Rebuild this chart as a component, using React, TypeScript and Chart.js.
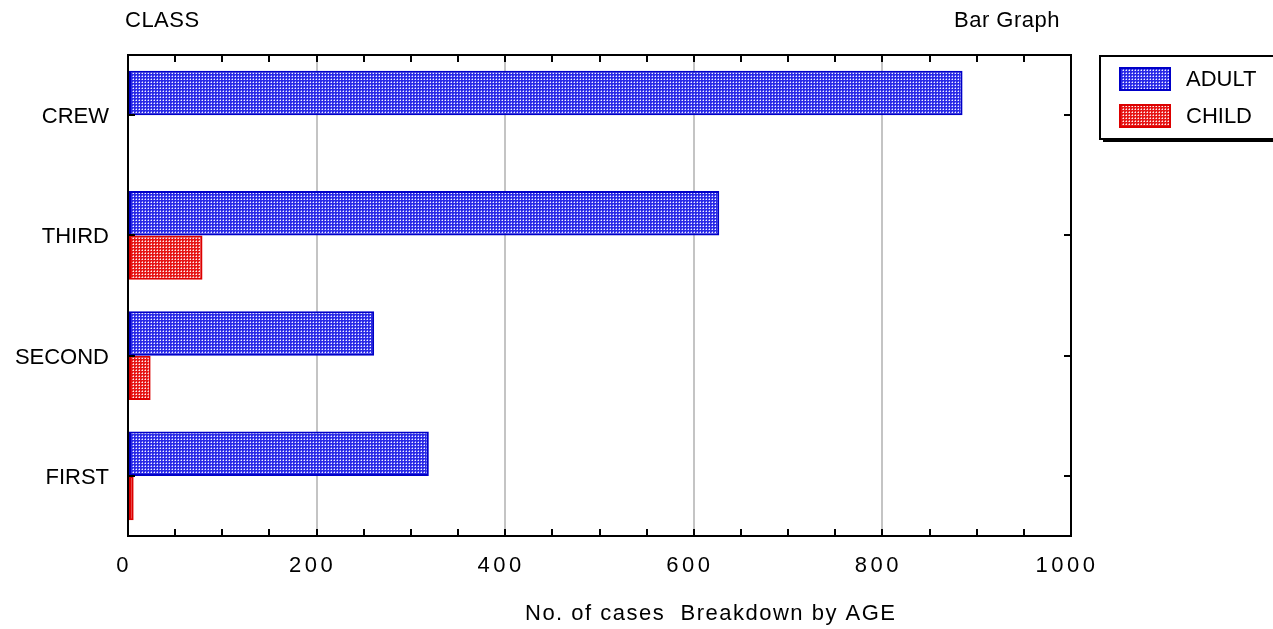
import { useEffect, useRef } from "react";
import { Chart, registerables } from "chart.js";

Chart.register(...registerables);

const classes = ["CREW", "THIRD", "SECOND", "FIRST"];
const adultCounts = [885, 627, 261, 319];
const childCounts = [0, 79, 24, 6];
const seriesNames = ["ADULT", "CHILD"];
const xTickLabels = [0, 200, 400, 600, 800, 1000];
const xMinorStep = 50;
const xMin = 0;
const xMax = 1000;
const topLeftTitle = "CLASS";
const topRightTitle = "Bar Graph";
const xAxisTitle = "No. of cases  Breakdown by AGE";

const FONT = '"Liberation Sans", Arial, Helvetica, sans-serif';

function makePattern(ctx: CanvasRenderingContext2D, base: string, light: string, dot: string) {
  const c = document.createElement("canvas");
  c.width = 3;
  c.height = 3;
  const g = c.getContext("2d")!;
  g.fillStyle = base;
  g.fillRect(0, 0, 3, 3);
  g.fillStyle = light;
  g.fillRect(1, 0, 1, 1);
  g.fillRect(0, 1, 1, 1);
  g.fillStyle = dot;
  g.fillRect(1, 1, 1, 1);
  return ctx.createPattern(c, "repeat")!;
}

export default function App() {
  const ref = useRef<HTMLCanvasElement | null>(null);

  useEffect(() => {
    const canvas = ref.current!;
    const ctx0 = canvas.getContext("2d")!;
    const adultFill = makePattern(ctx0, "#2a2ae6", "#8282f6", "#f4f4ff");
    const childFill = makePattern(ctx0, "#e61616", "#f28888", "#fff2f2");
    const adultBorder = "#0000c8";
    const childBorder = "#dc0000";

    const decor = {
      id: "decor",
      afterDraw(chart: any) {
        const { ctx, chartArea: a, scales } = chart;
        const x = scales.x;
        const y = scales.y;
        ctx.save();
        // frame
        ctx.strokeStyle = "#000";
        ctx.lineWidth = 2;
        ctx.strokeRect(a.left, a.top, a.right - a.left, a.bottom - a.top);
        // inward ticks
        ctx.beginPath();
        for (let v = xMin + xMinorStep; v < xMax; v += xMinorStep) {
          const px = Math.round(x.getPixelForValue(v));
          ctx.moveTo(px, a.bottom);
          ctx.lineTo(px, a.bottom - 7);
          ctx.moveTo(px, a.top);
          ctx.lineTo(px, a.top + 7);
        }
        classes.forEach((_, i) => {
          const py = Math.round(y.getPixelForValue(i));
          ctx.moveTo(a.left, py);
          ctx.lineTo(a.left + 7, py);
          ctx.moveTo(a.right, py);
          ctx.lineTo(a.right - 7, py);
        });
        ctx.stroke();

        // x tick labels
        ctx.fillStyle = "#000";
        ctx.textBaseline = "middle";
        ctx.font = `22px ${FONT}`;
        (ctx as any).letterSpacing = "3.5px";
        ctx.textAlign = "center";
        xTickLabels.forEach((v) => {
          ctx.fillText(String(v), x.getPixelForValue(v) - 4, 566);
        });

        // axis title
        (ctx as any).letterSpacing = "1.5px";
        ctx.textAlign = "left";
        ctx.fillText(xAxisTitle, 525, 614);

        // top titles
        ctx.font = `22px ${FONT}`;
        (ctx as any).letterSpacing = "0.5px";
        ctx.textAlign = "left";
        ctx.fillText(topLeftTitle, 125, 21);
        ctx.textAlign = "right";
        ctx.fillText(topRightTitle, 1060, 21);

        // legend
        (ctx as any).letterSpacing = "0px";
        ctx.lineWidth = 2;
        ctx.strokeStyle = "#000";
        ctx.strokeRect(1100, 56, 300, 83);
        ctx.fillStyle = "#000";
        ctx.fillRect(1103, 139, 300, 3);
        const fills = [adultFill, childFill];
        const borders = [adultBorder, childBorder];
        const rows = [79, 116];
        seriesNames.forEach((name, i) => {
          const cy = rows[i];
          ctx.fillStyle = fills[i];
          ctx.fillRect(1120, cy - 11, 50, 22);
          ctx.strokeStyle = borders[i];
          ctx.lineWidth = 2;
          ctx.strokeRect(1120, cy - 11, 50, 22);
          ctx.fillStyle = "#000";
          ctx.textAlign = "left";
          ctx.font = `22px ${FONT}`;
          ctx.fillText(name, 1186, cy + 1);
        });
        ctx.restore();
      },
    };

    const chart = new Chart(canvas, {
      type: "bar",
      data: {
        labels: classes,
        datasets: [
          {
            label: seriesNames[0],
            data: adultCounts,
            backgroundColor: adultFill,
            borderColor: adultBorder,
            borderWidth: 2,
            borderSkipped: false,
            categoryPercentage: 0.74,
            barPercentage: 1.0,
          },
          {
            label: seriesNames[1],
            data: childCounts,
            backgroundColor: childFill,
            borderColor: childBorder,
            borderWidth: 2,
            borderSkipped: false,
            categoryPercentage: 0.74,
            barPercentage: 1.0,
          },
        ],
      },
      options: {
        indexAxis: "y",
        animation: false,
        responsive: false,
        maintainAspectRatio: false,
        events: [],
        layout: { padding: { top: 55, right: 202, left: 0, bottom: 0 } },
        plugins: {
          legend: { display: false },
          tooltip: { enabled: false },
          title: { display: false },
        },
        scales: {
          x: {
            type: "linear",
            min: xMin,
            max: xMax,
            ticks: { stepSize: xMinorStep, display: false },
            grid: {
              drawTicks: false,
              lineWidth: 2,
              color: (c: any) => {
                const v = c.tick ? c.tick.value : -1;
                return v > xMin && v < xMax && v % 200 === 0 ? "#c4c4c4" : "rgba(0,0,0,0)";
              },
            },
            border: { display: false },
            afterFit: (s: any) => {
              s.height = 93;
            },
          },
          y: {
            type: "category",
            offset: true,
            ticks: {
              color: "#000",
              font: { family: FONT, size: 22 },
              padding: 19,
              labelOffset: 2,
            },
            grid: { display: false, drawTicks: false },
            border: { display: false },
            afterFit: (s: any) => {
              s.width = 128;
            },
          },
        },
      },
      plugins: [decor],
    });
    return () => chart.destroy();
  }, []);

  return (
    <div style={{ position: "fixed", left: 0, top: 0, width: 1273, height: 629, background: "#fff" }}>
      <canvas ref={ref} width={1273} height={629} style={{ display: "block", width: 1273, height: 629 }} />
    </div>
  );
}
